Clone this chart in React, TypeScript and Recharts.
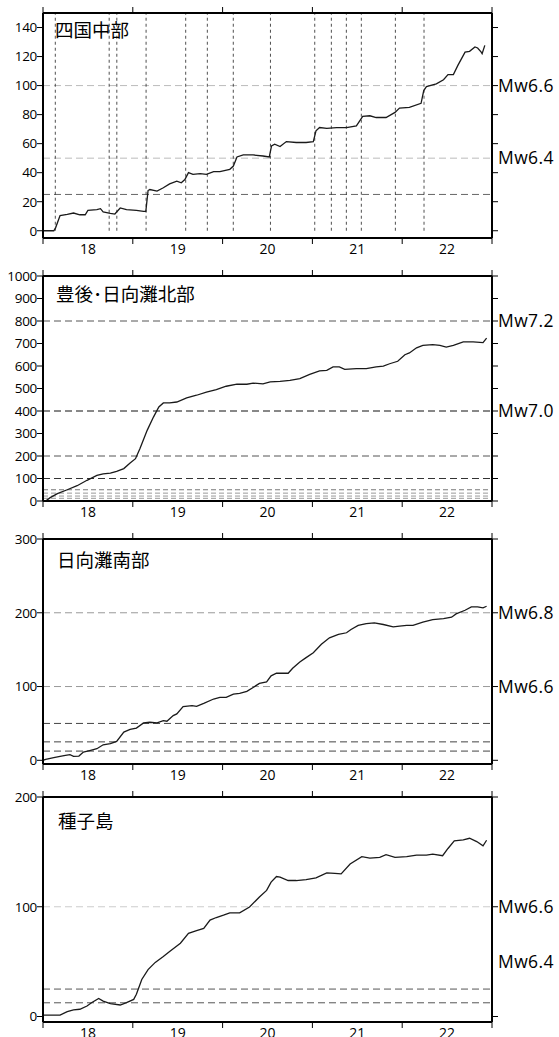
import React from "react";
import { LineChart, Line, XAxis, YAxis, ReferenceLine } from "recharts";

// shared time axis: year boundaries carry tick marks, half-years carry the labels
const YEAR_TICKS = [2018, 2018.5, 2019, 2019.5, 2020, 2020.5, 2021, 2021.5, 2022, 2022.5, 2023];
const YEAR_DOMAIN = [2018, 2023];

// 四国中部
const shikokuYears = [
  2018.0, 2018.12, 2018.14, 2018.19, 2018.27, 2018.34, 2018.41, 2018.47, 2018.5, 2018.6,
  2018.64, 2018.67, 2018.75, 2018.8, 2018.86, 2018.93, 2019.04, 2019.12, 2019.145, 2019.17,
  2019.19, 2019.27, 2019.34, 2019.41, 2019.49, 2019.54, 2019.58, 2019.62, 2019.67, 2019.75,
  2019.82, 2019.9, 2019.97, 2020.08, 2020.12, 2020.16, 2020.23, 2020.34, 2020.45, 2020.52,
  2020.545, 2020.58, 2020.64, 2020.71, 2020.82, 2020.93, 2021.01, 2021.04, 2021.08, 2021.16,
  2021.27, 2021.38, 2021.49, 2021.56, 2021.64, 2021.71, 2021.82, 2021.92, 2021.97, 2022.08,
  2022.21, 2022.24, 2022.27, 2022.38, 2022.46, 2022.51, 2022.57, 2022.62, 2022.7, 2022.75,
  2022.81, 2022.84, 2022.88, 2022.89, 2022.92,
];
const shikokuValues = [
  0, 0, 2, 10.4, 11.2, 12.2, 11, 11, 14, 14.5,
  15.2, 13, 12, 11.5, 15.7, 14.5, 14, 13.4, 13.4, 27.7,
  28.4, 27.3, 29.6, 32.3, 34.2, 33, 35.3, 40, 38.8, 39.3,
  38.8, 40.7, 40.7, 42.3, 44.6, 50.8, 52.2, 52.2, 51.5, 50.8,
  58.4, 59.6, 58, 61.4, 60.8, 60.8, 61.4, 68.8, 71.1, 70.5,
  71.1, 71.1, 72.3, 78.8, 79.2, 78, 78, 81.5, 84.5, 85,
  87.8, 96.6, 99.3, 101.2, 104, 107.6, 107.6, 113.9, 123, 123.6,
  126.6, 125.9, 123, 122, 127.7,
];
const shikokuEvents = [
  2018.137, 2018.737, 2018.822, 2019.148, 2019.589, 2019.83, 2020.119, 2020.533,
  2021.026, 2021.211, 2021.378, 2021.545, 2021.924, 2022.243,
];

// 豊後・日向灘北部
const bungoYears = [
  2018.03, 2018.08, 2018.16, 2018.27, 2018.38, 2018.49, 2018.6, 2018.67, 2018.75, 2018.82,
  2018.9, 2018.97, 2019.03, 2019.08, 2019.16, 2019.23, 2019.29, 2019.34, 2019.41, 2019.49,
  2019.6, 2019.71, 2019.82, 2019.93, 2020.04, 2020.16, 2020.27, 2020.34, 2020.45, 2020.53,
  2020.64, 2020.75, 2020.86, 2020.97, 2021.08, 2021.16, 2021.23, 2021.3, 2021.36, 2021.49,
  2021.6, 2021.71, 2021.79, 2021.86, 2021.95, 2022.03, 2022.08, 2022.16, 2022.23, 2022.34,
  2022.42, 2022.49, 2022.57, 2022.68, 2022.79, 2022.9, 2022.92, 2022.94,
];
const bungoValues = [
  0, 15, 33, 50, 68, 92, 114, 121, 124, 132,
  144, 169, 188, 233, 314, 373, 418, 436, 436, 440,
  458, 470, 484, 495, 510, 519, 519, 524, 521, 529,
  532, 536, 544, 563, 578, 581, 596, 596, 585, 588,
  588, 596, 599, 610, 621, 650, 658, 681, 692, 695,
  692, 684, 692, 707, 707, 704, 714, 724,
];

// 日向灘南部
const hyuganadaYears = [
  2018.0, 2018.03, 2018.12, 2018.19, 2018.25, 2018.3, 2018.34, 2018.4, 2018.45, 2018.53,
  2018.6, 2018.67, 2018.75, 2018.82, 2018.9, 2018.97, 2019.04, 2019.12, 2019.19, 2019.27,
  2019.34, 2019.38, 2019.45, 2019.49, 2019.56, 2019.66, 2019.71, 2019.79, 2019.9, 2019.97,
  2020.04, 2020.12, 2020.19, 2020.27, 2020.34, 2020.41, 2020.49, 2020.54, 2020.6, 2020.73,
  2020.78, 2020.86, 2020.93, 2021.01, 2021.1, 2021.19, 2021.29, 2021.38, 2021.43, 2021.51,
  2021.6, 2021.69, 2021.79, 2021.9, 2021.97, 2022.05, 2022.12, 2022.23, 2022.34, 2022.46,
  2022.55, 2022.6, 2022.7, 2022.77, 2022.84, 2022.9, 2022.94,
];
const hyuganadaValues = [
  0, 1.3, 3.6, 5.4, 6.7, 7.6, 5.4, 5.8, 11.2, 13.5,
  15.7, 21, 22.5, 25.6, 38.2, 41.8, 43.6, 50.7, 51.6, 50.7,
  53.9, 53, 60.6, 62.9, 72.7, 74.1, 73.2, 77.2, 83.1, 85.3,
  85.3, 89.8, 90.7, 93.4, 98.8, 104.2, 106.4, 114.5, 118, 118,
  124.8, 133.4, 139.2, 145.9, 157.2, 166.1, 170.6, 172.9, 177.4, 182.8,
  185.4, 186.3, 184.1, 180.9, 181.8, 182.8, 182.8, 187.2, 190.8, 192.2,
  194, 198.5, 203.4, 207.9, 207.9, 206.6, 208.8,
];

// 種子島
const tanegashimaYears = [
  2018.01, 2018.19, 2018.27, 2018.34, 2018.41, 2018.49, 2018.54, 2018.62, 2018.67, 2018.75,
  2018.86, 2018.93, 2019.01, 2019.04, 2019.1, 2019.17, 2019.25, 2019.34, 2019.41, 2019.53,
  2019.62, 2019.71, 2019.79, 2019.86, 2019.93, 2020.01, 2020.08, 2020.19, 2020.3, 2020.41,
  2020.49, 2020.54, 2020.6, 2020.64, 2020.73, 2020.82, 2020.93, 2021.04, 2021.16, 2021.25,
  2021.32, 2021.42, 2021.55, 2021.64, 2021.75, 2021.82, 2021.92, 2022.05, 2022.16, 2022.27,
  2022.34, 2022.45, 2022.51, 2022.58, 2022.68, 2022.75, 2022.83, 2022.9, 2022.94,
];
const tanegashimaValues = [
  1.2, 1.2, 4.5, 6, 6.6, 9.6, 12.6, 16.5, 14.1, 11.7,
  10.5, 12.6, 15.6, 20.2, 33.7, 42.7, 49.3, 54.7, 59.2, 66.8,
  75.8, 78.2, 80.3, 87.8, 90.2, 92.3, 94.4, 94.4, 99.8, 108.9,
  114.9, 122.4, 127.5, 126.9, 123.9, 123.9, 124.8, 126.3, 130.8, 130.5,
  129.9, 138.9, 145.6, 144.4, 145, 147.4, 145, 145.6, 147.1, 147.1,
  148, 146.5, 153.1, 160, 160.9, 162.4, 159.4, 155.5, 160.6,
];

const FONT = "'Open Sans', 'DejaVu Sans', sans-serif";
const CJK = "'Noto Sans CJK JP', sans-serif";

type HLine = { y: number; color: string; dash?: string };
type MwLabel = { y: number; text: string };

interface Panel {
  title: string;
  top: number;
  years: number[];
  values: number[];
  domain: [number, number];
  ticks: number[];
  rightTicks: number[];
  hLines: HLine[];
  mw: MwLabel[];
  events?: number[];
}

const PANELS: Panel[] = [
  {
    title: "四国中部",
    top: 13,
    years: shikokuYears,
    values: shikokuValues,
    domain: [-5, 150],
    ticks: [0, 20, 40, 60, 80, 100, 120, 140],
    rightTicks: [0, 20, 40, 60, 80, 100, 120, 140],
    hLines: [
      { y: 100, color: "#bbb" },
      { y: 50, color: "#bbb" },
      { y: 25, color: "#666" },
    ],
    mw: [
      { y: 100, text: "Mw6.6" },
      { y: 50, text: "Mw6.4" },
    ],
    events: shikokuEvents,
  },
  {
    title: "豊後･日向灘北部",
    top: 276,
    years: bungoYears,
    values: bungoValues,
    domain: [0, 1000],
    ticks: [0, 100, 200, 300, 400, 500, 600, 700, 800, 900, 1000],
    rightTicks: [0, 100, 200, 300, 400, 500, 600, 700, 800, 900, 1000],
    hLines: [
      { y: 800, color: "#555" },
      { y: 400, color: "#111" },
      { y: 200, color: "#555" },
      { y: 100, color: "#333" },
      { y: 50, color: "#777", dash: "5 3" },
      { y: 35, color: "#999", dash: "5 3" },
      { y: 22, color: "#999", dash: "5 3" },
      { y: 12, color: "#999", dash: "5 3" },
    ],
    mw: [
      { y: 800, text: "Mw7.2" },
      { y: 400, text: "Mw7.0" },
    ],
  },
  {
    title: "日向灘南部",
    top: 539,
    years: hyuganadaYears,
    values: hyuganadaValues,
    domain: [-5, 300],
    ticks: [0, 100, 200, 300],
    rightTicks: [0, 100, 200, 300],
    hLines: [
      { y: 200, color: "#999" },
      { y: 100, color: "#999" },
      { y: 50, color: "#444" },
      { y: 25, color: "#444" },
      { y: 12.5, color: "#444" },
    ],
    mw: [
      { y: 200, text: "Mw6.8" },
      { y: 100, text: "Mw6.6" },
    ],
  },
  {
    title: "種子島",
    top: 797,
    years: tanegashimaYears,
    values: tanegashimaValues,
    domain: [-5, 200],
    ticks: [0, 100, 200],
    rightTicks: [0, 100, 200],
    hLines: [
      { y: 100, color: "#ccc" },
      { y: 25, color: "#555" },
      { y: 12.5, color: "#555" },
    ],
    mw: [
      { y: 100, text: "Mw6.6" },
      { y: 50, text: "Mw6.4" },
    ],
  },
];

const TOP_AXIS_H = 10;
const BOTTOM_AXIS_H = 24;
const PLOT_H = 225;

// bottom axis: marks on year boundaries, year labels centred inside each year
const BottomTick = ({ x, y, payload }: any) => {
  const v = payload.value as number;
  if (Number.isInteger(v)) {
    return <line x1={x} x2={x} y1={y} y2={y + 6} stroke="#000" strokeWidth={1} />;
  }
  return (
    <text x={x} y={y + 16} textAnchor="middle" fontSize={14} fontFamily={FONT} fill="#000">
      {String(Math.floor(v) % 100)}
    </text>
  );
};

const TopTick = ({ x, y, payload }: any) => {
  const v = payload.value as number;
  if (!Number.isInteger(v)) return null;
  return <line x1={x} x2={x} y1={y} y2={y - 6} stroke="#000" strokeWidth={1} />;
};

const PanelChart = ({ p }: { p: Panel }) => {
  const data = p.years.map((t, i) => ({ t, v: p.values[i] }));
  return (
    <div style={{ position: "absolute", left: 0, top: p.top - TOP_AXIS_H }}>
      <LineChart
        width={559}
        height={PLOT_H + TOP_AXIS_H + BOTTOM_AXIS_H}
        data={data}
        margin={{ top: 0, right: 0, bottom: 0, left: 0 }}
      >
        <XAxis
          xAxisId="b"
          dataKey="t"
          type="number"
          domain={YEAR_DOMAIN}
          ticks={YEAR_TICKS}
          interval={0}
          orientation="bottom"
          height={BOTTOM_AXIS_H}
          tickSize={0}
          tickMargin={0}
          tickLine={false}
          tick={<BottomTick />}
          axisLine={{ stroke: "#000", strokeWidth: 2 }}
          allowDataOverflow
        />
        <XAxis
          xAxisId="t"
          dataKey="t"
          type="number"
          domain={YEAR_DOMAIN}
          ticks={YEAR_TICKS}
          interval={0}
          orientation="top"
          height={TOP_AXIS_H}
          tickSize={0}
          tickMargin={0}
          tickLine={false}
          tick={<TopTick />}
          axisLine={{ stroke: "#000", strokeWidth: 2 }}
          allowDataOverflow
        />
        <YAxis
          yAxisId="l"
          type="number"
          domain={p.domain}
          ticks={p.ticks}
          interval={0}
          width={43}
          tickSize={6}
          tickMargin={0}
          tickLine={{ stroke: "#000" }}
          axisLine={{ stroke: "#000", strokeWidth: 2 }}
          tick={{ fontSize: 13.5, fontFamily: FONT, fill: "#000", letterSpacing: -0.3 }}
          allowDataOverflow
        />
        <YAxis
          yAxisId="r"
          orientation="right"
          type="number"
          domain={p.domain}
          ticks={p.rightTicks}
          interval={0}
          width={67}
          tickSize={6}
          tickLine={{ stroke: "#000" }}
          axisLine={{ stroke: "#000", strokeWidth: 2 }}
          tickFormatter={() => ""}
          allowDataOverflow
        />
        {p.hLines.map((h) => (
          <ReferenceLine
            key={`h-${h.y}`}
            xAxisId="b"
            yAxisId="l"
            y={h.y}
            stroke={h.color}
            strokeWidth={1}
            strokeDasharray={h.dash ?? "7 4"}
          />
        ))}
        {(p.events ?? []).map((e) => (
          <ReferenceLine
            key={`v-${e}`}
            xAxisId="b"
            yAxisId="l"
            segment={[
              { x: e, y: 0 },
              { x: e, y: p.domain[1] },
            ]}
            stroke="#222"
            strokeWidth={0.8}
            strokeDasharray="3 3"
          />
        ))}
        {p.mw.map((m) => (
          <ReferenceLine
            key={`mw-${m.y}`}
            xAxisId="b"
            yAxisId="l"
            y={m.y}
            stroke="none"
            label={{
              value: m.text,
              position: "right",
              offset: 6,
              fill: "#000",
              fontSize: 17.5,
              fontFamily: FONT,
              letterSpacing: 0.4,
            }}
          />
        ))}
        <Line
          xAxisId="b"
          yAxisId="l"
          dataKey="v"
          type="linear"
          dot={false}
          stroke="#1a1a1a"
          strokeWidth={1.3}
          isAnimationActive={false}
        />
      </LineChart>
    </div>
  );
};

const TITLE_OFFSETS = [16, 16.5, 20, 22.5];

export default function App() {
  return (
    <div
      style={{
        position: "absolute",
        left: 0,
        top: 0,
        width: 559,
        height: 1037,
        overflow: "hidden",
        background: "#fff",
      }}
    >
      {PANELS.map((p, i) => (
        <React.Fragment key={p.title}>
          <PanelChart p={p} />
          <div
            style={{
              position: "absolute",
              left: 55 + i,
              top: p.top + TITLE_OFFSETS[i] - 10,
              fontFamily: CJK,
              fontSize: 18.5,
              lineHeight: "20px",
              color: "#000",
              whiteSpace: "nowrap",
            }}
          >
            {p.title}
          </div>
        </React.Fragment>
      ))}
    </div>
  );
}
